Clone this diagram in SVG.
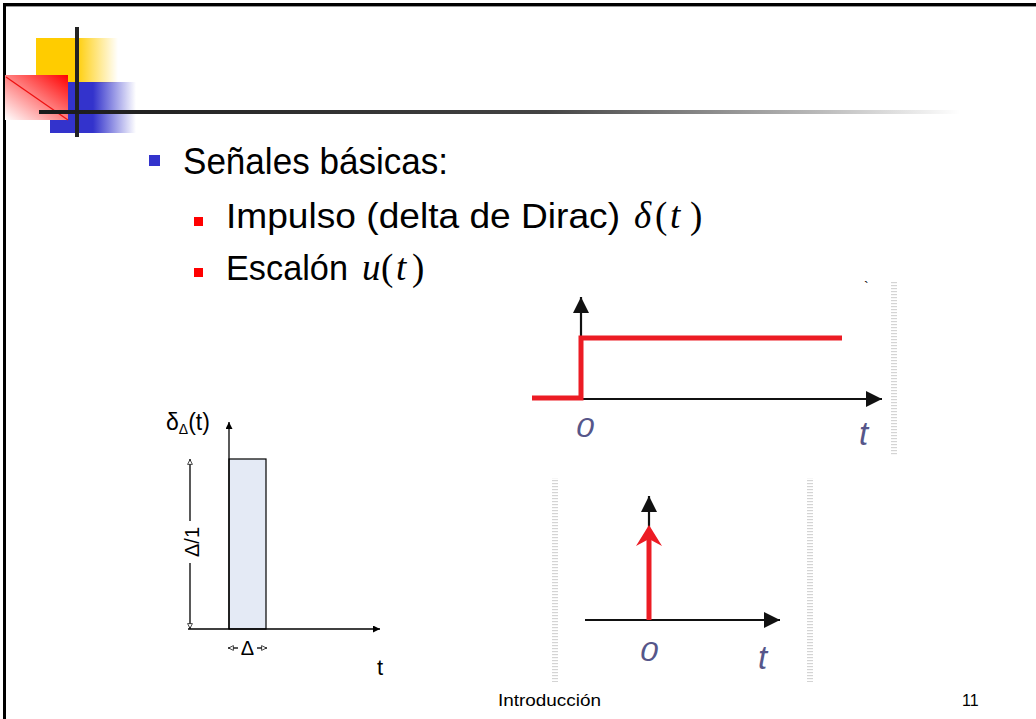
<svg xmlns="http://www.w3.org/2000/svg" width="1036" height="719" viewBox="0 0 1036 719">
<defs>
<style>
.sans{font-family:"Liberation Sans",Arial,sans-serif;fill:#000}
.math{font-family:"Liberation Serif","Times New Roman",serif;fill:#000}
.lbl{font-family:"Liberation Sans",Arial,sans-serif;font-style:italic;fill:#56568a}
.ax{stroke:#000;stroke-width:1.3;fill:none}
.ax2{stroke:#111;stroke-width:2.2;fill:none}
.red{stroke:#ec1c24;stroke-width:5;fill:none}
</style>
<linearGradient id="gY" x1="0" y1="0" x2="1" y2="0">
<stop offset="0" stop-color="#ffcc00"/><stop offset="0.48" stop-color="#ffcc00"/><stop offset="1" stop-color="#ffcc00" stop-opacity="0"/>
</linearGradient>
<linearGradient id="gB" x1="0" y1="0" x2="1" y2="0">
<stop offset="0" stop-color="#3333cc"/><stop offset="0.5" stop-color="#3333cc"/><stop offset="1" stop-color="#3333cc" stop-opacity="0"/>
</linearGradient>
<linearGradient id="gR" x1="1" y1="0" x2="0" y2="1">
<stop offset="0" stop-color="#ff0000"/><stop offset="0.5" stop-color="#ff8080"/><stop offset="1" stop-color="#ffffff"/>
</linearGradient>
<linearGradient id="gL" x1="0" y1="0" x2="1" y2="0">
<stop offset="0" stop-color="#1a1a1a"/><stop offset="0.55" stop-color="#444"/><stop offset="0.85" stop-color="#bbb"/><stop offset="1" stop-color="#fff"/>
</linearGradient>
<pattern id="stripe" x="0" y="0" width="6" height="3" patternUnits="userSpaceOnUse">
<rect x="0" y="0" width="6" height="1.2" fill="#d4d4d4"/>
</pattern>
<marker id="aS" viewBox="0 0 10 10" refX="10" refY="5" markerWidth="7" markerHeight="7" markerUnits="userSpaceOnUse" orient="auto">
<path d="M0,0 L10,5 L0,10 z" fill="#000"/>
</marker>
<marker id="aH" viewBox="0 0 10 10" refX="10" refY="5" markerWidth="6" markerHeight="6" markerUnits="userSpaceOnUse" orient="auto">
<path d="M1,1 L9,5 L1,9 z" fill="#fff" stroke="#000" stroke-width="1.2"/>
</marker>
<marker id="aB" viewBox="0 0 10 10" refX="10" refY="5" markerWidth="16" markerHeight="16" markerUnits="userSpaceOnUse" orient="auto">
<path d="M0,0 L10,5 L0,10 z" fill="#111"/>
</marker>
</defs>
<rect width="1036" height="719" fill="#fff"/>
<path d="M4.5,719 V4.5 H1036" fill="none" stroke="#000" stroke-width="3"/>
<line x1="6" y1="6.5" x2="1036" y2="6.5" stroke="#999" stroke-width="1"/>

<g id="logo">
<rect x="36" y="38" width="82" height="45" fill="url(#gY)"/>
<rect x="50" y="82" width="86" height="51" fill="url(#gB)"/>
<rect x="5" y="75" width="63" height="45" fill="url(#gR)"/>
<line x1="6" y1="77" x2="68" y2="120" stroke="#ee1111" stroke-width="1.3"/>
<rect x="75" y="27" width="4" height="110" fill="#222"/>
<rect x="39" y="110" width="921" height="4" fill="url(#gL)"/>
</g>

<g id="bullets">
<rect x="149" y="155" width="11" height="11" fill="#3333cc"/>
<text class="sans" x="183" y="174" font-size="36" textLength="265" lengthAdjust="spacingAndGlyphs">Señales básicas:</text>
<rect x="194" y="217" width="9" height="9" fill="#ff0000"/>
<text class="sans" x="226" y="228" font-size="35" textLength="394" lengthAdjust="spacingAndGlyphs">Impulso (delta de Dirac)</text>
<text class="math" y="228" font-size="37"><tspan x="634" font-style="italic">δ</tspan><tspan x="655">(</tspan><tspan x="670" font-style="italic">t</tspan><tspan x="690">)</tspan></text>
<rect x="194" y="268" width="9" height="9" fill="#ff0000"/>
<text class="sans" x="226" y="280" font-size="35" textLength="122" lengthAdjust="spacingAndGlyphs">Escalón</text>
<text class="math" y="280" font-size="37"><tspan x="362" font-style="italic">u</tspan><tspan x="381">(</tspan><tspan x="396" font-style="italic">t</tspan><tspan x="412">)</tspan></text>
</g>

<g id="pulse">
<rect x="229" y="459" width="37" height="170" fill="#e4eaf5" stroke="#000" stroke-width="1.2"/>
<text class="sans" x="166" y="430" font-size="23">δ<tspan font-size="14" dy="4">Δ</tspan><tspan dy="-4">(t)</tspan></text>
<text class="sans" x="377" y="675" font-size="22">t</text>
<text class="sans" transform="translate(199,542) rotate(-90)" text-anchor="middle" font-size="20">Δ/1</text>
<text class="sans" x="247.5" y="655" font-size="20" text-anchor="middle">Δ</text>
</g>

<g id="step">
<rect x="891" y="282" width="6" height="173" fill="url(#stripe)"/>
<text class="sans" x="864" y="292" font-size="14" fill="#555">`</text>
<text class="lbl" transform="translate(576,437) scale(1.2,1)" font-size="27">0</text>
<text class="lbl" x="859" y="445" font-size="33">t</text>
</g>

<g id="impulse">
<rect x="552" y="478" width="6" height="204" fill="url(#stripe)"/>
<rect x="807" y="478" width="6" height="204" fill="url(#stripe)"/>
<text class="lbl" transform="translate(640,661) scale(1.2,1)" font-size="27">0</text>
<text class="lbl" x="758" y="669" font-size="33">t</text>
</g>

<g id="connectors">
<line class="ax" x1="229" y1="629" x2="229" y2="422" marker-end="url(#aS)"/>
<line class="ax" x1="188" y1="629" x2="380" y2="629" marker-end="url(#aS)"/>
<line class="ax" x1="190" y1="521" x2="190" y2="459" marker-end="url(#aH)"/>
<line class="ax" x1="190" y1="563" x2="190" y2="629" marker-end="url(#aH)"/>
<line class="ax" x1="238" y1="648" x2="228" y2="648" marker-end="url(#aH)"/>
<line class="ax" x1="257" y1="648" x2="267" y2="648" marker-end="url(#aH)"/>

<line class="ax2" x1="581" y1="399" x2="581" y2="297" marker-end="url(#aB)"/>
<line class="ax2" x1="581" y1="399" x2="882" y2="399" marker-end="url(#aB)"/>
<polyline class="red" points="532,398 581,398 581,338 842,338"/>

<line class="ax2" x1="649" y1="620" x2="649" y2="496" marker-end="url(#aB)"/>
<line class="ax2" x1="585" y1="620" x2="780" y2="620" marker-end="url(#aB)"/>
<line class="red" x1="649" y1="620" x2="649" y2="535"/>
<path d="M649,525 L662,546 L649,539 L636,546 z" fill="#ec1c24"/>
</g>

<g id="footer">
<text class="sans" x="498" y="706" font-size="16" textLength="103" lengthAdjust="spacingAndGlyphs">Introducción</text>
<text class="sans" x="962" y="706" font-size="16">11</text>
</g>
</svg>
